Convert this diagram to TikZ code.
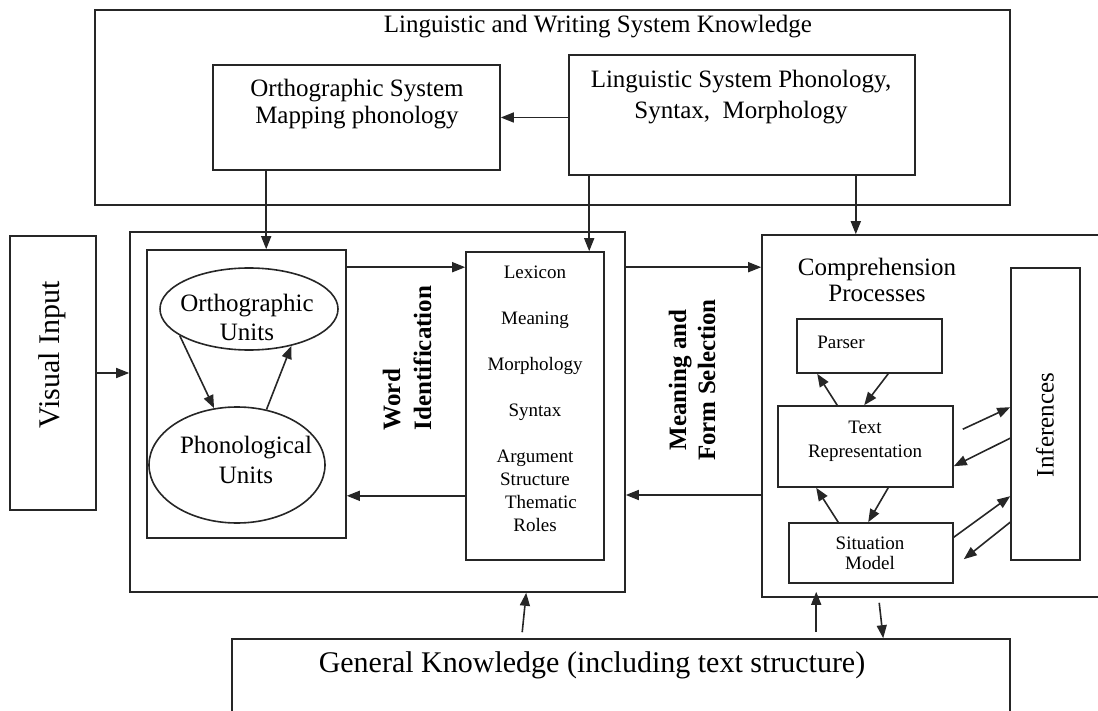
\documentclass[tikz,border=0pt]{standalone}
\usepackage{fontspec}
\setmainfont{Liberation Serif}
\usetikzlibrary{arrows.meta,shapes.geometric}
\begin{document}
\begin{tikzpicture}[x=1pt,y=-1pt,
  box/.style={draw=black!85,line width=1.6pt,inner sep=0pt,anchor=center},
  oval/.style={draw=black!85,ellipse,line width=1.6pt,inner sep=0pt},
  arr/.style={draw=black!85,line width=1.6pt,-{Triangle[length=13pt,width=10pt]}},
  txt/.style={inner sep=0pt,align=center,font=\fontsize{25}{24}\selectfont},
  small/.style={inner sep=0pt,align=center,font=\fontsize{19}{23}\selectfont},
  large/.style={inner sep=0pt,align=center,font=\fontsize{30}{32}\selectfont},
  btxt/.style={inner sep=0pt,font=\fontsize{25}{31}\selectfont\bfseries,rotate=90}
]
\useasboundingbox (0,0) rectangle (1098,711);

% boxes
\node[box,minimum width=915,minimum height=195] (top) at (552.5,107.5) {};
\node[box,minimum width=287,minimum height=105] (orth) at (356.5,117.5) {};
\node[box,minimum width=346,minimum height=120] (ling) at (742,115) {};
\node[box,minimum width=86,minimum height=274] (visual) at (53,373) {};
\node[box,minimum width=495,minimum height=360] (mid) at (377.5,412) {};
\node[box,minimum width=199,minimum height=288] (inner) at (246.5,394) {};
\node[box,minimum width=138,minimum height=308] (lex) at (535,406) {};
\node[box,minimum width=348,minimum height=362] (comp) at (936,416) {};
\node[box,minimum width=145,minimum height=54] (parser) at (869.5,346) {};
\node[box,minimum width=175,minimum height=81] (textrep) at (865.5,446.5) {};
\node[box,minimum width=164,minimum height=60] (sit) at (871,553) {};
\node[box,minimum width=69,minimum height=292] (infer) at (1045.5,414) {};
\node[box,minimum width=778,minimum height=91] (gk) at (621,684.5) {};
\node[oval,minimum width=178,minimum height=82] (ortho) at (249,309) {};
\node[oval,minimum width=176,minimum height=116] (phon) at (237,465) {};

% texts
\node[txt] (topT) at (598,27) {Linguistic and Writing System Knowledge};
\node[txt,font=\fontsize{25}{27}\selectfont] (orthT) at (357,104) {Orthographic System\\Mapping phonology};
\node[txt,font=\fontsize{25}{31}\selectfont] (lingT) at (741,97) {Linguistic System Phonology,\\Syntax,\ \ Morphology};
\node[large,rotate=90] (visualT) at (52,355) {Visual Input};
\node[txt,font=\fontsize{25}{29}\selectfont] (orthoT) at (247,317) {Orthographic\\Units};
\node[txt,font=\fontsize{25}{30}\selectfont] (phonT) at (246,460) {Phonological\\Units};
\node[btxt,align=left] (wordT) at (407,358) {Word\\Identification};
\node[btxt,align=center,font=\fontsize{25}{29}\selectfont\bfseries] (mfsT) at (692,380) {Meaning and\\Form Selection};
\node[small] (lexT) at (535,399) {Lexicon\\[23pt]Meaning\\[23pt]Morphology\\[23pt]Syntax\\[23pt]Argument\\Structure\\\hspace*{12pt}Thematic\\Roles};
\node[txt,font=\fontsize{25}{26}\selectfont] (compT) at (877,280) {Comprehension\\Processes};
\node[small] (parserT) at (841,342) {Parser};
\node[small,font=\fontsize{19}{24}\selectfont] (textrepT) at (865,441) {Text\\Representation};
\node[small,font=\fontsize{19}{20}\selectfont] (sitT) at (870,553) {Situation\\Model};
\node[txt,rotate=90] (inferT) at (1045,425) {Inferences};
\node[large] (gkT) at (592,665) {General Knowledge (including text structure)};

% arrows
\draw[arr] (ling.west |- orth.east) -- (orth.east);
\draw[arr] ([xshift=54pt]orth.south west) -- ([xshift=54pt]orth.south west |- inner.north);
\draw[arr] ([xshift=21pt]ling.south west) -- ([xshift=21pt]ling.south west |- lex.north);
\draw[arr] ([xshift=-60pt]ling.south east) -- ([xshift=-60pt]ling.south east |- comp.north);
\draw[arr] (visual.east) -- (visual.east -| mid.west);
\draw[arr] (ortho.201) -- (phon.112);
\draw[arr] (phon.62) -- (ortho.319);
\draw[arr] ([yshift=-18pt]inner.north east) -- ([yshift=-18pt]inner.north east -| lex.west);
\draw[arr] ([yshift=65pt]lex.south west) -- ([yshift=65pt]lex.south west -| inner.east);
\draw[arr] ([yshift=-36pt]mid.north east) -- ([yshift=-36pt]mid.north east -| comp.west);
\draw[arr] ([yshift=-79pt]comp.west) -- ([yshift=-79pt]comp.west -| mid.east);
\draw[arr] ([xshift=60pt]textrep.north west) -- ([xshift=21pt]parser.south west);
\draw[arr] ([xshift=92pt]parser.south west) -- ([xshift=87pt]textrep.north west);
\draw[arr] ([xshift=50pt]sit.north west) -- ([xshift=39pt]textrep.south west);
\draw[arr] ([xshift=111pt]textrep.south west) -- ([xshift=80pt]sit.north west);
\draw[arr] ([xshift=9pt,yshift=-24pt]textrep.north east) -- ([yshift=-140pt]infer.north west);
\draw[arr] ([yshift=-171pt]infer.north west) -- ([yshift=-61pt]textrep.north east);
\draw[arr] ([yshift=-15pt]sit.north east) -- ([yshift=-229pt]infer.north west);
\draw[arr] ([yshift=-255pt]infer.north west) -- ([xshift=10pt,yshift=-37pt]sit.north east);
\draw[arr] ([xshift=291pt,yshift=6pt]gk.north west) -- ([xshift=397pt]mid.south west);
\draw[arr] ([xshift=585pt,yshift=6pt]gk.north west) -- ([xshift=585pt,yshift=6pt]gk.north west |- comp.south);
\draw[arr] ([xshift=118pt,yshift=-5pt]comp.south west) -- ([xshift=652pt]gk.north west);
\end{tikzpicture}
\end{document}
